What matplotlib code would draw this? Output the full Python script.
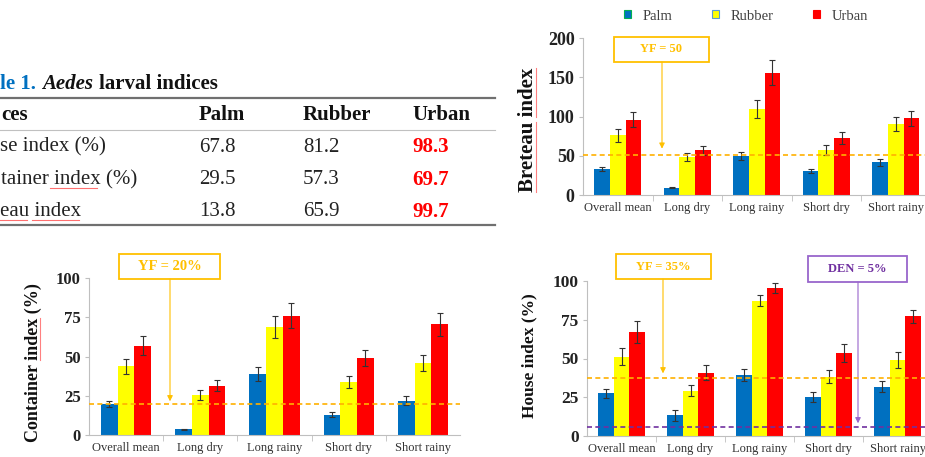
import numpy as np
import matplotlib.pyplot as plt
from matplotlib.lines import Line2D
from matplotlib.patches import Rectangle

plt.rcParams['font.family'] = ['Liberation Serif', 'DejaVu Serif']

W, H = 925, 457

seasons = ['Overall mean', 'Long dry', 'Long rainy', 'Short dry', 'Short rainy']
sites = ['Palm', 'Rubber', 'Urban']
colors = ['#0070C0', '#FFFF00', '#FF0000']

# Breteau index
bi_palm = [33, 9.5, 49.5, 30.5, 41.5]
bi_rubber = [76, 48.5, 109, 57, 90]
bi_urban = [96, 57, 156, 73, 97.5]
bi_err_palm = [3, 1, 5.5, 3, 4]
bi_err_rubber = [8.5, 5.5, 11.5, 6.5, 9]
bi_err_urban = [10, 6, 16, 7.5, 9.5]

# Container index (%)
ci_palm = [19.6, 3.6, 39, 12.8, 22]
ci_rubber = [43.8, 25.5, 68.7, 33.8, 46]
ci_urban = [57, 31.5, 76, 49, 70.6]
ci_err_palm = [2, 0.5, 4.3, 1.6, 2.9]
ci_err_rubber = [5, 3, 7, 3.7, 5]
ci_err_urban = [6, 3.7, 8, 5, 7.2]

# House index (%)
hi_palm = [27.5, 13.5, 39.4, 25.4, 31.8]
hi_rubber = [51.2, 29.2, 87.3, 38.3, 49]
hi_urban = [66.9, 40.9, 95.7, 53.3, 77.4]
hi_err_palm = [2.7, 3.5, 4, 3.2, 3.4]
hi_err_rubber = [5.4, 3.5, 3.4, 4.3, 5.4]
hi_err_urban = [7, 4.6, 3.3, 5.8, 4.2]

# table 1 (left part of the screenshot is cut off)
tab_title = 'le 1.'
tab_head = 'ces'
tab_rows = ['se index (%)', 'tainer index (%)', 'eau index']
tab_palm = ['67.8', '29.5', '13.8']
tab_rubber = ['81.2', '57.3', '65.9']
tab_urban = ['98.3', '69.7', '99.7']

fig = plt.figure(figsize=(W / 100, H / 100), dpi=100)


def fx(px):
    return px / W


def fy(py):
    return 1 - py / H


def bars(rect, vals, errs, ymax, yticks, ylabel, lab_size, tick_size, xt_size, lab_xy):
    ax = fig.add_axes(rect)
    x = np.arange(len(seasons))
    w = 0.225
    for k in range(3):
        ax.bar(x + (k - 1) * w, vals[k], w, color=colors[k], zorder=2)
        ax.errorbar(x + (k - 1) * w, vals[k], yerr=errs[k], fmt='none',
                    ecolor='#333333', elinewidth=0.8, capsize=2, capthick=0.8, zorder=3)
    ax.set_xlim(-0.5, 4.5)
    ax.set_ylim(0, ymax)
    ax.set_yticks(yticks)
    ax.set_yticklabels([str(t) for t in yticks], fontsize=tick_size, fontweight='bold',
                       color='#222222')
    ax.set_xticks(x)
    ax.set_xticklabels(seasons, fontsize=xt_size, color='#333333')
    ax.set_xticks([0.5, 1.5, 2.5, 3.5], minor=True)
    ax.tick_params(axis='x', which='major', length=0, pad=5)
    ax.tick_params(axis='x', which='minor', length=4, color='#BFBFBF')
    ax.tick_params(axis='y', length=3, color='#BFBFBF', pad=3)
    for s in ['top', 'right']:
        ax.spines[s].set_visible(False)
    for s in ['left', 'bottom']:
        ax.spines[s].set_color('#BFBFBF')
        ax.spines[s].set_linewidth(0.8)
    ax.set_ylabel(ylabel, fontsize=lab_size, fontweight='bold', color='#111111')
    ax.yaxis.set_label_coords(*lab_xy)
    return ax


def callout(ax, box, text, tcolor, ecolor, ax_x, tip_y, size):
    x0, y0, x1, y1 = box
    fig.patches.append(Rectangle((fx(x0), fy(y1)), fx(x1 - x0), (y1 - y0) / H,
                                 transform=fig.transFigure, fill=False,
                                 edgecolor=ecolor, linewidth=1.3))
    fig.text(fx((x0 + x1) / 2), fy((y0 + y1) / 2), text, ha='center', va='center',
             fontsize=size, fontweight='bold', color=tcolor)
    ax.annotate('', xy=(fx(ax_x), tip_y), xycoords=('figure fraction', 'data'),
                xytext=(fx(ax_x), fy(y1)), textcoords='figure fraction',
                arrowprops=dict(arrowstyle='-|>', color=ecolor, lw=0.8,
                                shrinkA=0, shrinkB=0, mutation_scale=8))


# Breteau chart
ax1 = bars([fx(583), fy(195), fx(347.5), 157 / H],
           [bi_palm, bi_rubber, bi_urban], [bi_err_palm, bi_err_rubber, bi_err_urban],
           200, [0, 50, 100, 150, 200], 'Breteau index', 15, 13, 9, (-0.13, 0.414))
ax1.axhline(51, color='#FFB000', lw=1.2, ls=(0, (3, 2)), zorder=4)
callout(ax1, (614, 37, 709, 62), 'YF = 50', '#FFC000', '#FFC000', 662, 59, 9)

handles = [Rectangle((0, 0), 1, 1, facecolor=colors[0], edgecolor='#00B050', lw=0.8),
           Rectangle((0, 0), 1, 1, facecolor=colors[1], edgecolor='#5B9BD5', lw=0.8),
           Rectangle((0, 0), 1, 1, facecolor=colors[2], edgecolor=colors[2], lw=0.8)]
fig.legend(handles, sites, loc='center', bbox_to_anchor=(fx(746), fy(16)), ncol=3,
           frameon=False, fontsize=10.5, handlelength=0.48, handleheight=0.48,
           handletextpad=0.82, columnspacing=2.7, labelcolor='#404040')

# Container chart
ax2 = bars([fx(89), fy(435), fx(371), 156.7 / H],
           [ci_palm, ci_rubber, ci_urban], [ci_err_palm, ci_err_rubber, ci_err_urban],
           100, [0, 25, 50, 75, 100], 'Container index (%)', 13, 12, 9, (-0.127, 0.46))
ax2.axhline(20, color='#FFB000', lw=1.2, ls=(0, (3, 2)), zorder=4)
callout(ax2, (119, 254, 220, 279), 'YF = 20%', '#FFC000', '#FFC000', 170, 21.5, 10.5)

# House chart
ax3 = bars([fx(587), fy(436), fx(345), 155 / H],
           [hi_palm, hi_rubber, hi_urban], [hi_err_palm, hi_err_rubber, hi_err_urban],
           100, [0, 25, 50, 75, 100], 'House index (%)', 12.5, 12.5, 9, (-0.145, 0.516))
ax3.axhline(37.6, color='#FFB000', lw=1.2, ls=(0, (3, 2)), zorder=4)
ax3.axhline(5.6, color='#7030A0', lw=1.2, ls=(0, (3, 2)), zorder=4)
callout(ax3, (616, 254, 711, 279), 'YF = 35%', '#FFC000', '#FFC000', 663, 40.4, 9)
callout(ax3, (808, 256, 907, 282), 'DEN = 5%', '#7030A0', '#9966CC', 858, 8.2, 9)

# Table 1
ts = 15
fig.text(fx(0.5), fy(84), tab_title, fontsize=ts, fontweight='bold', color='#0070C0',
         va='center')
fig.text(fx(42), fy(84), 'Aedes', fontsize=ts, fontweight='bold', style='italic',
         color='#111111', va='center')
fig.text(fx(99), fy(84), 'larval indices', fontsize=ts, fontweight='bold',
         color='#111111', va='center')
fig.lines.append(Line2D([0, fx(495)], [fy(98), fy(98)], transform=fig.transFigure,
                        color='#707070', lw=1.6))
fig.lines.append(Line2D([0, fx(495)], [fy(130), fy(130)], transform=fig.transFigure,
                        color='#C0C0C0', lw=0.8))
fig.lines.append(Line2D([0, fx(495)], [fy(225), fy(225)], transform=fig.transFigure,
                        color='#707070', lw=1.6))
col_x = [199, 303, 412]
fig.text(fx(1.5), fy(115), tab_head, fontsize=ts, fontweight='bold', color='#111111',
         va='center')
for cx, name in zip(col_x, sites):
    fig.text(fx(cx), fy(115), name, fontsize=ts, fontweight='bold', color='#111111',
             va='center')
row_y = [147, 180, 212]
row_x = [0.5, 1, 0.3]
for i, ry in enumerate(row_y):
    fig.text(fx(row_x[i]), fy(ry), tab_rows[i], fontsize=ts, color='#222222', va='center')
    fig.text(fx(col_x[0]), fy(ry), tab_palm[i], fontsize=ts, color='#222222', va='center')
    fig.text(fx(col_x[1]), fy(ry), tab_rubber[i], fontsize=ts, color='#222222', va='center')
    fig.text(fx(col_x[2]), fy(ry), tab_urban[i], fontsize=ts, fontweight='bold',
             color='#FF0000', va='center')

# spell-check underlines from the screenshot
for xs, yy in [((50, 97), 188), ((0, 27), 220), ((32, 79), 220)]:
    fig.lines.append(Line2D([fx(xs[0]), fx(xs[1])], [fy(yy), fy(yy)],
                            transform=fig.transFigure, color='#FF7070', lw=0.8))

fig.canvas.draw()
r = fig.canvas.get_renderer()
for ax, parts in [(ax1, [(0.0, 0.566), (0.608, 1.0)]), (ax2, [(0.518, 0.783)])]:
    bb = ax.yaxis.label.get_window_extent(r)
    for a, b in parts:
        xl = (bb.x1 - 2) / W
        fig.lines.append(Line2D([xl, xl], [(bb.y0 + a * bb.height) / H, (bb.y0 + b * bb.height) / H],
                                transform=fig.transFigure, color='#FF8080', lw=0.8))

fig.savefig('out.png', dpi=100)
